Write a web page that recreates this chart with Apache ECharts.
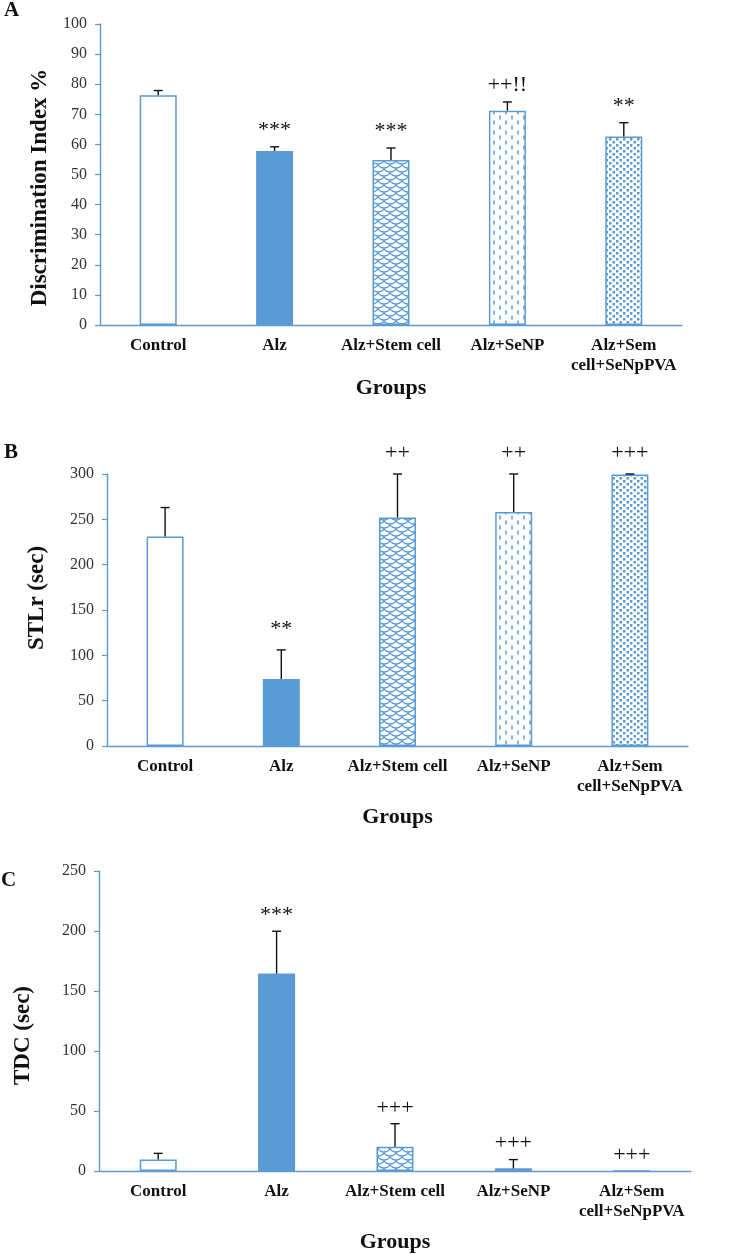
<!DOCTYPE html>
<html>
<head>
<meta charset="utf-8">
<script src="https://cdn.jsdelivr.net/npm/echarts@6/dist/echarts.min.js"></script>
<style>
html,body{margin:0;padding:0;background:#fff;}
#chart{width:744px;height:1254px;}
</style>
</head>
<body>
<div id="chart"></div>
<script>
// ---- data ----
const categories = ['Control', 'Alz', 'Alz+Stem cell', 'Alz+SeNP', 'Alz+Sem\ncell+SeNpPVA'];

const diMean = [76.3, 57.8, 54.8, 71.2, 62.6];
const diErr  = [1.6, 1.4, 4.0, 2.9, 4.6];
const diSig  = ['', '***', '***', '++!!', '**'];

const stlMean = [231, 74, 252, 258, 299.5];
const stlErr  = [32, 32, 48, 42, 0.5];
const stlSig  = ['', '**', '++', '++', '+++'];

const tdcMean = [9.5, 164.5, 20.2, 2.2, 0];
const tdcErr  = [5.2, 35.3, 19.2, 7.3, 0];
const tdcSig  = ['', '***', '+++', '+++', '+++'];

const yTicksA = {min: 0, max: 100, interval: 10};
const yTicksB = {min: 0, max: 300, interval: 50};
const yTicksC = {min: 0, max: 250, interval: 50};

// ---- styles ----
const BLUE = '#5B9BD5';
const FONT = '"Liberation Serif", "Times New Roman", serif';

function makeTile(w, h, draw) {
  const c = document.createElement('canvas');
  c.width = w; c.height = h;
  const ctx = c.getContext('2d');
  draw(ctx);
  return c;
}
const scaleTile = makeTile(12, 8, ctx => {
  ctx.strokeStyle = BLUE; ctx.lineWidth = 1.3;
  const arc = (cx, cy) => { ctx.beginPath(); ctx.ellipse(cx, cy, 6, 4, 0, 0, Math.PI); ctx.stroke(); };
  arc(6, 0); arc(0, 4); arc(12, 4); arc(6, 8); arc(0, -4); arc(12, -4);
});
const dashTile = makeTile(12, 10, ctx => {
  ctx.strokeStyle = BLUE; ctx.lineWidth = 1.5;
  ctx.beginPath(); ctx.moveTo(2, 0.5); ctx.lineTo(2, 4.5); ctx.stroke();
  ctx.beginPath(); ctx.moveTo(8, 5.5); ctx.lineTo(8, 9.5); ctx.stroke();
});
const dotTile = makeTile(7, 6, ctx => {
  ctx.fillStyle = BLUE;
  ctx.fillRect(0, 0, 2.5, 2.5);
  ctx.fillRect(3.5, 3, 2.5, 2.5);
});

const fills = [
  '#ffffff',
  BLUE,
  {image: scaleTile, repeat: 'repeat'},
  {image: dashTile, repeat: 'repeat'},
  {image: dotTile, repeat: 'repeat'}
];

function barData(vals) {
  return vals.map((v, i) => ({
    value: v,
    itemStyle: {color: fills[i], borderColor: BLUE, borderWidth: i === 1 ? 0 : 1.5}
  }));
}

function errSeries(idx, mean, err) {
  return {
    type: 'custom', xAxisIndex: idx, yAxisIndex: idx, z: 5,
    data: mean.map((m, i) => [i, m, err[i]]),
    renderItem: (params, api) => {
      const i = api.value(0), m = api.value(1), e = api.value(2);
      if (!e) return null;
      const p0 = api.coord([i, m]), p1 = api.coord([i, m + e]);
      const st = {stroke: '#111', lineWidth: 1.4};
      return {type: 'group', children: [
        {type: 'line', shape: {x1: p0[0], y1: p0[1], x2: p1[0], y2: p1[1]}, style: st},
        {type: 'line', shape: {x1: p1[0] - 4.5, y1: p1[1], x2: p1[0] + 4.5, y2: p1[1]}, style: st}
      ]};
    }
  };
}

function sigSeries(idx, mean, err, sig, gap) {
  return {
    type: 'custom', xAxisIndex: idx, yAxisIndex: idx, z: 6,
    data: mean.map((m, i) => [i, m + err[i]]),
    renderItem: (params, api) => {
      const t = sig[params.dataIndex];
      if (!t) return null;
      const p = api.coord([api.value(0), api.value(1)]);
      return {type: 'text', x: p[0], y: p[1] - gap,
        style: {text: t, align: 'center', verticalAlign: 'bottom',
          fontFamily: FONT, fontSize: 22, fill: '#111'}};
    }
  };
}

function xAxis(idx, nameGap) {
  return {
    type: 'category', gridIndex: idx, data: categories,
    axisLine: {lineStyle: {color: BLUE, width: 1.4}},
    axisTick: {show: false},
    axisLabel: {interval: 0, margin: 11, fontFamily: FONT, fontWeight: 'bold',
      fontSize: 17, lineHeight: 20, color: '#111'},
    name: 'Groups', nameLocation: 'middle', nameGap: nameGap,
    nameTextStyle: {fontFamily: FONT, fontWeight: 'bold', fontSize: 22, color: '#111'}
  };
}

function yAxis(idx, ticks, name, nameGap, padding) {
  return {
    type: 'value', gridIndex: idx, min: ticks.min, max: ticks.max, interval: ticks.interval,
    splitLine: {show: false},
    axisLine: {show: true, lineStyle: {color: BLUE, width: 1.4}},
    axisTick: {show: true, length: 5, lineStyle: {color: BLUE, width: 1.2}},
    axisLabel: {margin: 13, fontFamily: FONT, fontSize: 16, color: '#333'},
    name: name, nameLocation: 'middle', nameGap: nameGap,
    nameTextStyle: {fontFamily: FONT, fontWeight: 'bold', fontSize: 23, color: '#111', padding: padding}
  };
}

const option = {
  animation: false,
  backgroundColor: '#fff',
  grid: [
    {left: 100, right: 62, top: 24, height: 301},
    {left: 107, right: 56, top: 474, height: 272},
    {left: 99, right: 53, top: 871, height: 301}
  ],
  xAxis: [xAxis(0, 46), xAxis(1, 60), xAxis(2, 60)],
  yAxis: [
    yAxis(0, yTicksA, 'Discrimination Index %', 48, [0, 26, 0, 0]),
    yAxis(1, yTicksB, 'STLr (sec)', 58, [0, 0, 0, 24]),
    yAxis(2, yTicksC, 'TDC (sec)', 64, [0, 29, 0, 0])
  ],
  series: [
    {type: 'bar', xAxisIndex: 0, yAxisIndex: 0, barWidth: 37, data: barData(diMean)},
    {type: 'bar', xAxisIndex: 1, yAxisIndex: 1, barWidth: 37, data: barData(stlMean)},
    {type: 'bar', xAxisIndex: 2, yAxisIndex: 2, barWidth: 37, data: barData(tdcMean)},
    errSeries(0, diMean, diErr), errSeries(1, stlMean, stlErr), errSeries(2, tdcMean, tdcErr),
    sigSeries(0, diMean, diErr, diSig, 6),
    sigSeries(1, stlMean, stlErr, stlSig, 10),
    sigSeries(2, tdcMean, tdcErr, tdcSig, 5)
  ],
  graphic: [
    {type: 'text', left: 4, top: 0, style: {text: 'A', fontFamily: FONT, fontWeight: 'bold', fontSize: 21, fill: '#111'}},
    {type: 'text', left: 4, top: 442, style: {text: 'B', fontFamily: FONT, fontWeight: 'bold', fontSize: 21, fill: '#111'}},
    {type: 'text', left: 1, top: 870, style: {text: 'C', fontFamily: FONT, fontWeight: 'bold', fontSize: 21, fill: '#111'}}
  ]
};

const chart = echarts.init(document.getElementById('chart'), null, {renderer: 'canvas'});
chart.setOption(option);
</script>
</body>
</html>
